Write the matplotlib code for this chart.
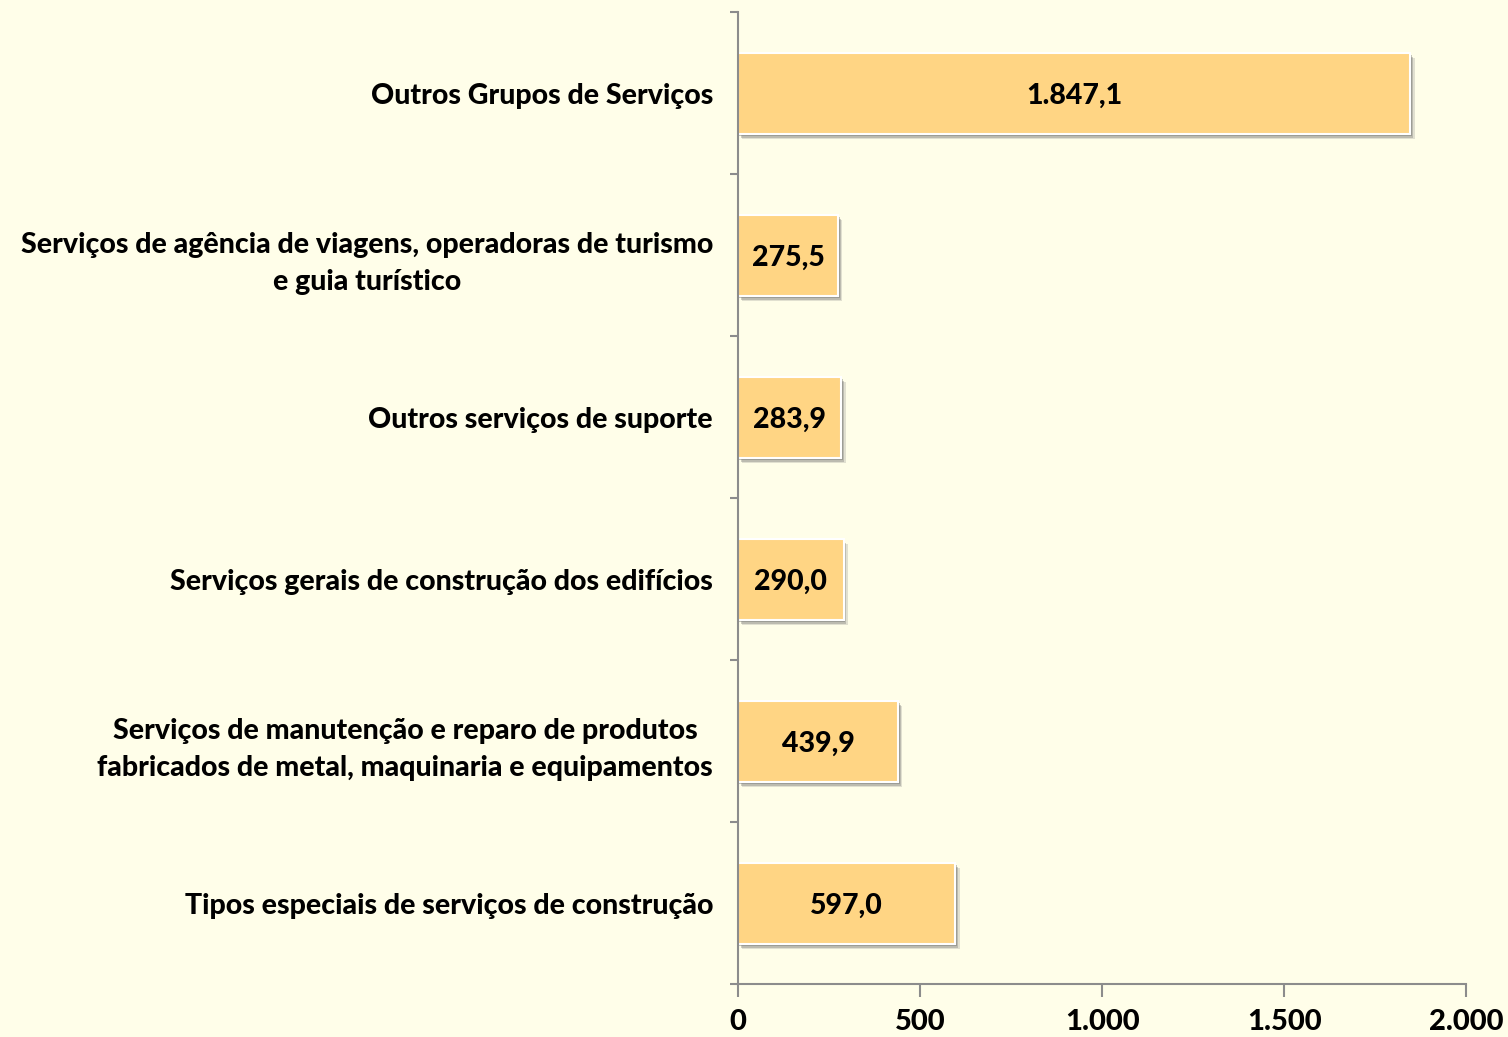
import matplotlib.pyplot as plt
import matplotlib.patheffects as pe
import numpy as np

plt.rcParams['font.family'] = ['Lato', 'DejaVu Sans']

# categories from bottom to top
categories = [
    'Tipos especiais de serviços de construção',
    'Serviços de manutenção e reparo de produtos\nfabricados de metal, maquinaria e equipamentos',
    'Serviços gerais de construção dos edifícios',
    'Outros serviços de suporte',
    'Serviços de agência de viagens, operadoras de turismo\ne guia turístico',
    'Outros Grupos de Serviços',
]
values = [597.0, 439.9, 290.0, 283.9, 275.5, 1847.1]
value_labels = ['597,0', '439,9', '290,0', '283,9', '275,5', '1.847,1']
x_ticks = [0, 500, 1000, 1500, 2000]
x_tick_labels = ['0', '500', '1.000', '1.500', '2.000']

bg = '#FFFEE9'
bar_color = '#FFD584'
axis_color = '#8C8C8C'

fig = plt.figure(figsize=(15.08, 10.37), dpi=100, facecolor=bg)
ax = fig.add_axes([0.4894, 0.0511, 0.4828, 0.9373], facecolor=bg)

y = np.arange(len(categories))
bars = ax.barh(y, values, height=0.5, color=bar_color, edgecolor='white', linewidth=1.5)
for b in bars:
    b.set_path_effects([
        pe.SimplePatchShadow(offset=(3, -4), shadow_rgbFace='#888888', alpha=0.25),
        pe.SimplePatchShadow(offset=(2, -3), shadow_rgbFace='#777777', alpha=0.35),
        pe.SimplePatchShadow(offset=(1, -2), shadow_rgbFace='#666666', alpha=0.4),
        pe.Normal()])

for yi, v, lab in zip(y, values, value_labels):
    ax.text(v / 2, yi - 0.015, lab, ha='center', va='center', fontsize=20.5, fontweight='black', color='black')

ax.set_xlim(0, 2000)
ax.set_ylim(-0.5, len(categories) - 0.5)

ax.set_yticks(y)
ax.set_yticklabels(categories, fontsize=20.5, fontweight='black', multialignment='center', linespacing=1.55)
ax.tick_params(axis='y', which='major', length=0, pad=18)
ax.set_yticks(np.arange(-0.5, len(categories)), minor=True)
ax.tick_params(axis='y', which='minor', length=6, width=1.5, color=axis_color)

ax.set_xticks(x_ticks)
ax.set_xticklabels(x_tick_labels, fontsize=21, fontweight='black')
ax.tick_params(axis='x', length=9, width=1.5, color=axis_color, pad=9)

for s in ['top', 'right']:
    ax.spines[s].set_visible(False)
for s in ['left', 'bottom']:
    ax.spines[s].set_color(axis_color)
    ax.spines[s].set_linewidth(1.5)

fig.savefig('out.png', dpi=100, facecolor=bg)
